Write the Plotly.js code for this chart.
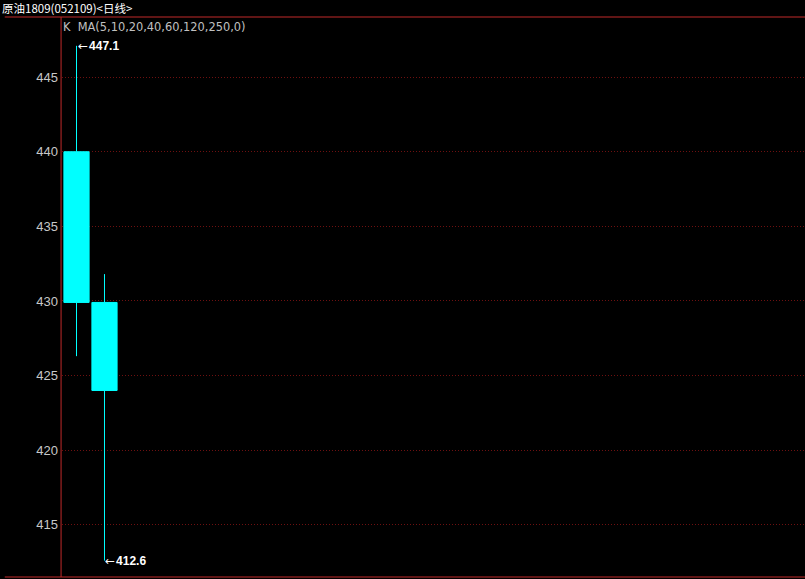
<!DOCTYPE html>
<html>
<head>
<meta charset="utf-8">
<script src="https://cdn.plot.ly/plotly-3.0.1.min.js"></script>
<style>
html,body{margin:0;padding:0;background:#000;}
#chart{width:805px;height:579px;}
</style>
</head>
<body>
<div id="chart"></div>
<script>
// Data
const days = [0, 1];
const openP = [440.0, 429.9];
const highP = [447.1, 431.8];
const lowP = [426.3, 412.6];
const closeP = [429.9, 424.0];
const yTicks = [415, 420, 425, 430, 435, 440, 445];
const chartTitle = '原油1809(052109)<日线>';
const indicatorLabel = 'K  MA(5,10,20,40,60,120,250,0)';

const maxHigh = Math.max(...highP);
const maxIdx = highP.indexOf(maxHigh);
const minLow = Math.min(...lowP);
const minIdx = lowP.indexOf(minLow);

const trace = {
  type: 'candlestick',
  x: days,
  open: openP, high: highP, low: lowP, close: closeP,
  increasing: {line: {color: '#ff3232', width: 1}, fillcolor: '#000000'},
  decreasing: {line: {color: '#00ffff', width: 1}, fillcolor: '#00ffff'},
  whiskerwidth: 0,
  hoverinfo: 'none'
};

const lineRed = '#c02a2a';
const pxShift = 0.5 / 28;
const arrowSpan = '<span style="font-family:DejaVu Sans;font-size:12px">←</span>';

const layout = {
  width: 805, height: 579,
  paper_bgcolor: '#000000', plot_bgcolor: '#000000',
  margin: {l: 62, r: 0, t: 17, b: 2},
  showlegend: false,
  boxgap: 0.1,
  boxgroupgap: 0,
  font: {family: 'Liberation Sans, Arial, sans-serif', color: '#c8c8c8', size: 12},
  xaxis: {
    range: [-0.5 - pxShift, 26.04 - pxShift],
    showgrid: false, zeroline: false, showticklabels: false, ticks: '',
    rangeslider: {visible: false},
    showline: false
  },
  yaxis: {
    range: [411.5, 449.03],
    tickvals: yTicks,
    ticktext: yTicks.map(String),
    tickfont: {family: 'Liberation Sans, Arial, sans-serif', size: 13, color: '#c8c8c8'},
    ticks: '', ticklen: 0, ticklabelstandoff: 3,
    showgrid: true, gridcolor: '#6e1010', griddash: '1px,2px', gridwidth: 1,
    zeroline: false,
    showline: false
  },
  shapes: [
    {type: 'line', xref: 'paper', yref: 'paper', x0: -62/805, x1: 1, y0: 1, y1: 1,
     line: {color: lineRed, width: 1}, layer: 'above'},
    {type: 'line', xref: 'paper', yref: 'paper', x0: -62/805, x1: 1, y0: 0, y1: 0,
     line: {color: lineRed, width: 1}, layer: 'above'},
    {type: 'line', xref: 'paper', yref: 'paper', x0: -1/805, x1: -1/805, y0: 0, y1: 1,
     line: {color: lineRed, width: 1}, layer: 'above'}
  ],
  annotations: [
    {xref: 'paper', yref: 'paper', x: -62/805, y: 1, xshift: -5, yshift: 9, xanchor: 'left', yanchor: 'middle',
     text: chartTitle, showarrow: false,
     font: {family: 'Noto Sans CJK SC, sans-serif', size: 11.5, color: '#ffffff'}},
    {xref: 'paper', yref: 'paper', x: 0, y: 1, xshift: -1, yshift: -10, xanchor: 'left', yanchor: 'middle',
     text: indicatorLabel, showarrow: false,
     font: {family: 'DejaVu Sans, sans-serif', size: 11.4, color: '#c0c0c0'}},
    {x: days[maxIdx], y: maxHigh, xanchor: 'left', yanchor: 'middle', xshift: -1,
     text: arrowSpan + '&#8202;<b>' + maxHigh.toFixed(1) + '</b>', showarrow: false,
     font: {family: 'Liberation Sans, Arial, sans-serif', size: 12, color: '#ffffff'}},
    {x: days[minIdx], y: minLow, xanchor: 'left', yanchor: 'middle', xshift: -1,
     text: arrowSpan + '&#8202;<b>' + minLow.toFixed(1) + '</b>', showarrow: false,
     font: {family: 'Liberation Sans, Arial, sans-serif', size: 12, color: '#ffffff'}}
  ]
};

Plotly.newPlot('chart', [trace], layout, {staticPlot: true, displayModeBar: false});
</script>
</body>
</html>
